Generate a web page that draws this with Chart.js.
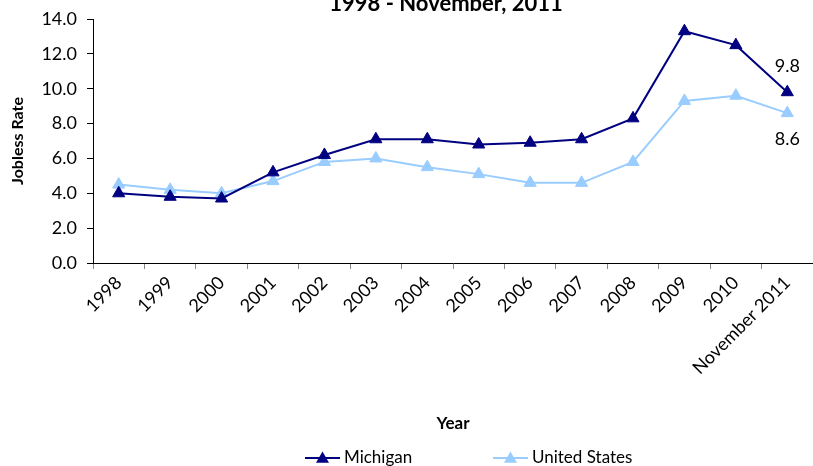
<!DOCTYPE html>
<html><head><meta charset="utf-8">
<script src="https://cdn.jsdelivr.net/npm/chart.js@4"></script>
<style>
html,body{margin:0;padding:0;background:#fff;overflow:hidden;width:813px;height:466px}
#wrap{position:absolute;left:0;top:-14px;width:813px;height:480px}
</style>
</head><body>
<div id="wrap"><canvas id="c" width="813" height="480"></canvas></div>
<script>
const categories = ['1998','1999','2000','2001','2002','2003','2004','2005','2006','2007','2008','2009','2010','November 2011'];
const michigan = [4.0, 3.8, 3.7, 5.2, 6.2, 7.1, 7.1, 6.8, 6.9, 7.1, 8.3, 13.3, 12.5, 9.8];
const unitedStates = [4.5, 4.2, 4.0, 4.7, 5.8, 6.0, 5.5, 5.1, 4.6, 4.6, 5.8, 9.3, 9.6, 8.6];
const seriesNames = ['Michigan', 'United States'];
const titleText = '1998 - November, 2011';
const yTitle = 'Jobless Rate';
const xTitle = 'Year';

const FONT = 'Lato, "Open Sans", sans-serif';
const NAVY = '#000080';
const LIGHT = '#99CCFF';

function triangle(ctx, x, y, r, color) {
  ctx.save();
  ctx.fillStyle = color;
  ctx.beginPath();
  ctx.moveTo(x, y - r);
  ctx.lineTo(x + r * Math.sqrt(3) / 2, y + r / 2);
  ctx.lineTo(x - r * Math.sqrt(3) / 2, y + r / 2);
  ctx.closePath();
  ctx.fill();
  ctx.restore();
}

const customTitle = {
  id: 'customTitle',
  afterDraw(chart) {
    const ctx = chart.ctx;
    ctx.save();
    ctx.fillStyle = '#000';
    ctx.font = 'bold 22px ' + FONT;
    ctx.textAlign = 'center';
    ctx.textBaseline = 'alphabetic';
    ctx.fillText(titleText, 446, 25);
    ctx.restore();
  }
};

const customLegend = {
  id: 'customLegend',
  afterDraw(chart) {
    const ctx = chart.ctx;
    const starts = [305, 493];
    const y = 472;
    chart.data.datasets.forEach((ds, i) => {
      const x0 = starts[i];
      ctx.save();
      ctx.strokeStyle = ds.borderColor;
      ctx.lineWidth = 2;
      ctx.beginPath();
      ctx.moveTo(x0, y);
      ctx.lineTo(x0 + 35, y);
      ctx.stroke();
      triangle(ctx, x0 + 17.5, y + 1, 7.5, ds.borderColor);
      ctx.fillStyle = '#000';
      ctx.font = '17px ' + FONT;
      ctx.textBaseline = 'middle';
      ctx.textAlign = 'left';
      ctx.fillText(ds.label, x0 + 39, y);
      ctx.restore();
    });
  }
};

const lastLabels = {
  id: 'lastLabels',
  afterDatasetsDraw(chart) {
    const ctx = chart.ctx;
    const offsets = [-26, 26];
    chart.data.datasets.forEach((ds, i) => {
      const meta = chart.getDatasetMeta(i);
      const idx = ds.data.length - 1;
      const pt = meta.data[idx];
      ctx.save();
      ctx.fillStyle = '#000';
      ctx.font = '18px ' + FONT;
      ctx.textAlign = 'center';
      ctx.textBaseline = 'middle';
      ctx.fillText(ds.data[idx].toFixed(1), pt.x, pt.y + offsets[i]);
      ctx.restore();
    });
  }
};

new Chart(document.getElementById('c'), {
  type: 'line',
  data: {
    labels: categories,
    datasets: [
      {label: seriesNames[0], data: michigan, borderColor: NAVY, backgroundColor: NAVY,
       borderWidth: 2, pointStyle: 'triangle', pointRadius: 7, pointBorderWidth: 1,
       pointBackgroundColor: NAVY, pointBorderColor: NAVY, tension: 0},
      {label: seriesNames[1], data: unitedStates, borderColor: LIGHT, backgroundColor: LIGHT,
       borderWidth: 2, pointStyle: 'triangle', pointRadius: 7, pointBorderWidth: 1,
       pointBackgroundColor: LIGHT, pointBorderColor: LIGHT, tension: 0}
    ]
  },
  options: {
    responsive: false,
    animation: false,
    devicePixelRatio: 1,
    layout: {autoPadding: false, padding: {left: 0, right: -2, top: 33, bottom: 30}},
    plugins: {
      legend: {display: false},
      tooltip: {enabled: false},
      title: {display: false}
    },
    scales: {
      x: {
        offset: true,
        grid: {display: true, drawOnChartArea: false, drawTicks: true, tickLength: 6, tickColor: '#888', offset: true},
        border: {display: true, color: '#000', width: 1},
        ticks: {color: '#000', font: {family: FONT, size: 18}, maxRotation: 45, minRotation: 45, padding: 3, autoSkip: false},
        title: {display: true, text: xTitle, color: '#000', font: {family: FONT, size: 17, weight: 'bold'}, padding: {top: 0, bottom: 2}},
        afterFit(scale) { scale.height = 173; scale.paddingRight = 0; scale.paddingLeft = 0; }
      },
      y: {
        min: 0, max: 14,
        grid: {display: true, drawOnChartArea: false, drawTicks: true, tickLength: 6, tickColor: '#000'},
        border: {display: true, color: '#000', width: 1},
        ticks: {stepSize: 2, color: '#000', font: {family: FONT, size: 18}, padding: 10,
                callback: v => Number(v).toFixed(1)},
        title: {display: true, text: yTitle, color: '#000', font: {family: FONT, size: 16, weight: 'bold'}, padding: {top: 8, bottom: 0}},
        afterFit(scale) { scale.width = 93; }
      }
    }
  },
  plugins: [customTitle, customLegend, lastLabels]
});
</script>
</body></html>
